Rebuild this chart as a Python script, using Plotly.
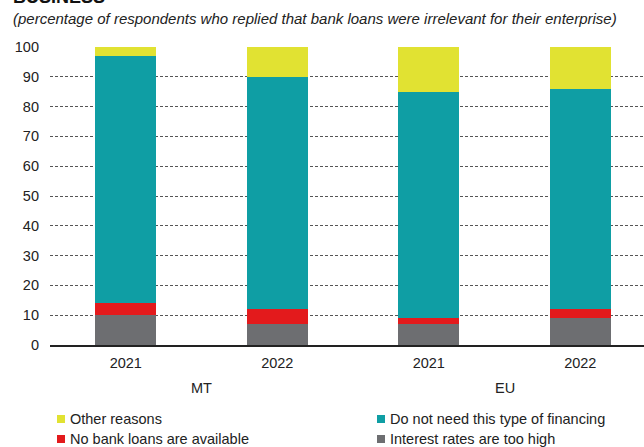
import plotly.graph_objects as go

groups = ["MT", "MT", "EU", "EU"]
years = ["2021", "2022", "2021", "2022"]

interest_high = [10, 7, 7, 9]
no_bank_loans = [4, 5, 2, 3]
no_need = [83, 78, 76, 74]
other_reasons = [3, 10, 15, 14]

series = [
    ("Interest rates are too high", interest_high, "#6D6E71"),
    ("No bank loans are available", no_bank_loans, "#E31A1C"),
    ("Do not need this type of financing", no_need, "#0F9EA4"),
    ("Other reasons", other_reasons, "#E1E232"),
]

FONT = "Liberation Sans, Arial, sans-serif"
TXT = "#222222"

# plot-area geometry in pixels (figure 644x447)
L, R, T, B = 50, 644, 47, 345
PW, PH = R - L, B - T


def px_x(p):
    return (p - L) / PW


def px_y(p):
    return (B - p) / PH


cats = [f"{g} {y}" for g, y in zip(groups, years)]

fig = go.Figure()
for name, vals, col in series:
    fig.add_trace(go.Bar(
        x=cats, y=vals, name=name, width=0.4,
        marker=dict(color=col, line=dict(width=0)),
        showlegend=False,
    ))

annotations = [
    dict(text="<b>BUSINESS</b>", xref="paper", yref="paper",
         x=px_x(11), y=px_y(9), xanchor="left", yanchor="bottom",
         showarrow=False, font=dict(size=18, color="#111")),
    dict(text="<i>(percentage of respondents who replied that bank loans were irrelevant for their enterprise)</i>",
         xref="paper", yref="paper", x=px_x(11), y=px_y(18),
         xanchor="left", yanchor="middle", showarrow=False,
         font=dict(size=15, color=TXT)),
]

# group labels under the year ticks
group_names = []
for g in groups:
    if g not in group_names:
        group_names.append(g)
for g in group_names:
    idx = [i for i, gg in enumerate(groups) if gg == g]
    annotations.append(dict(
        text=g, xref="x", yref="paper", x=sum(idx) / len(idx), y=px_y(388),
        xanchor="center", yanchor="middle", showarrow=False,
        font=dict(size=14.5, color=TXT)))

# legend (two columns), order as in the reference
legend_order = ["Other reasons", "Do not need this type of financing",
                "No bank loans are available", "Interest rates are too high"]
colors = {n: c for n, _, c in series}
slots = [(61, 419), (381, 419), (61, 439), (381, 439)]
shapes = []
for name, (mx, my) in zip(legend_order, slots):
    shapes.append(dict(
        type="rect", xref="paper", yref="paper",
        xsizemode="pixel", ysizemode="pixel",
        xanchor=px_x(mx), yanchor=px_y(my),
        x0=-4, x1=4, y0=-4, y1=4,
        fillcolor=colors[name], line=dict(width=0)))
    annotations.append(dict(
        text=name, xref="paper", yref="paper", x=px_x(mx + 7), y=px_y(my),
        xanchor="left", yanchor="middle", showarrow=False,
        font=dict(size=14.5, color=TXT)))

fig.update_layout(
    barmode="stack",
    width=644, height=447,
    margin=dict(l=L, r=644 - R, t=T, b=447 - B, autoexpand=False),
    paper_bgcolor="white", plot_bgcolor="white",
    font=dict(family=FONT, size=14.5, color=TXT),
    showlegend=False,
    xaxis=dict(
        type="category", range=[-0.5, -0.5 + PW / 151.5],
        tickvals=cats, ticktext=years,
        showline=True, linecolor="#222", linewidth=2,
        ticks="", tickfont=dict(size=14.5, color=TXT),
        ticklabelstandoff=4, showgrid=False,
    ),
    yaxis=dict(
        range=[0, 100], dtick=10, showline=False, zeroline=False,
        showgrid=True, gridcolor="#555", gridwidth=1, griddash="3px,2px",
        ticks="", tickfont=dict(size=14.5, color=TXT), ticklabelstandoff=10,
    ),
    annotations=annotations,
    shapes=shapes,
)

fig.write_html(
    "out.html",
    config={"displayModeBar": False},
    post_script="document.body.style.margin='0';document.body.style.overflow='hidden';",
)
